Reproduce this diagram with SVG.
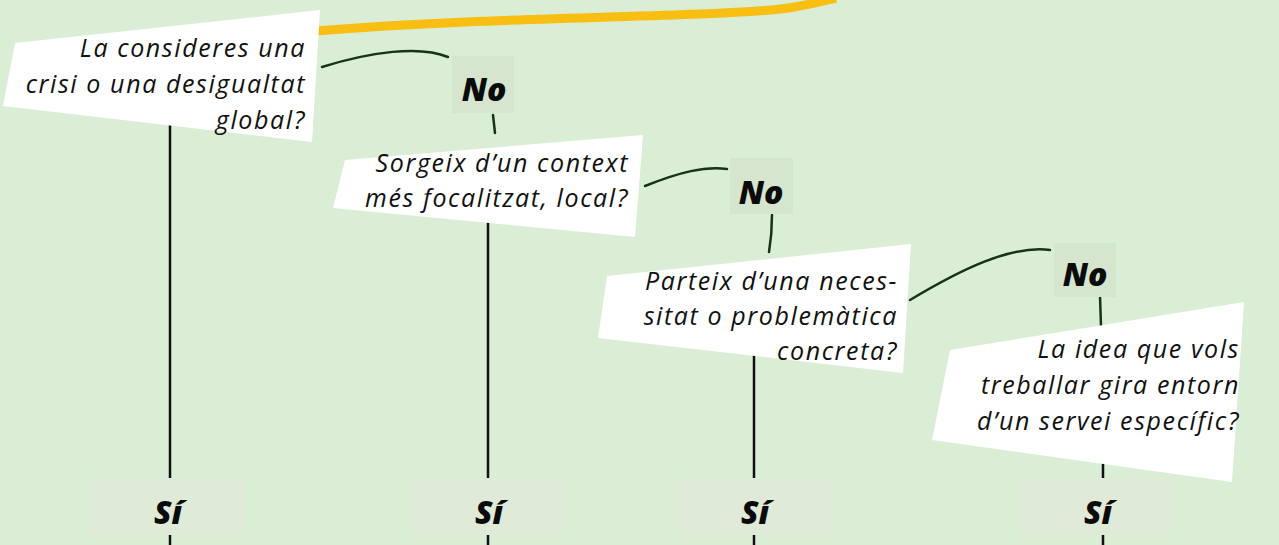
<svg xmlns="http://www.w3.org/2000/svg" width="1279" height="545" viewBox="0 0 1279 545">
<style>
.q{font-family:"Open Sans","Noto Sans",sans-serif;font-style:italic;font-size:25px;letter-spacing:1.6px;fill:#111;text-anchor:end}
.lbl{font-family:"Open Sans","Noto Sans",sans-serif;font-style:italic;font-weight:800;font-size:32px;fill:#0b0b0b;text-anchor:middle}
.box{fill:#ffffff}
.nobg{fill:#d5e5ce}
.sibg{fill:#dfebd8}
.v{stroke:#111;stroke-width:2.5;fill:none}
.c{stroke:#17321a;stroke-width:2.5;fill:none;stroke-linecap:round}
</style>
<rect width="1279" height="545" fill="#daeed5"/>
<path d="M316 31 C450 20 600 18 700 14 S800 6 836 -2" stroke="#f8be12" stroke-width="9" fill="none"/>
<g id="connectors">
<path class="v" d="M170 125 V478 M170 535 V545"/>
<path class="v" d="M488 222 V478 M488 535 V545"/>
<path class="v" d="M754 355 V478 M754 535 V545"/>
<path class="v" d="M1103 462 V478 M1103 535 V545"/>
<path class="c" d="M322 67 C370 52 420 45 448 57"/>
<path class="c" d="M493 115 L495 133"/>
<path class="c" d="M645 186 C680 172 705 166 727 169"/>
<path class="c" d="M772 215 C772 228 771 240 769 252"/>
<path class="c" d="M910 300 C960 270 1010 245 1050 250"/>
<path class="c" d="M1100 296 L1101 326"/>
</g>
<g id="q1">
<polygon class="box" points="15,43 320,10 312,142 3,106"/>
<text class="q"><tspan x="306" y="57">La consideres una</tspan><tspan x="306" y="93">crisi o una desigualtat</tspan><tspan x="306" y="129">global?</tspan></text>
</g>
<g id="q2">
<polygon class="box" points="345,160 643,135 635,237 333,208"/>
<text class="q"><tspan x="629" y="172">Sorgeix d’un context</tspan><tspan x="629" y="207">més focalitzat, local?</tspan></text>
</g>
<g id="q3">
<polygon class="box" points="607,276 911,244 903,373 598,338"/>
<text class="q"><tspan x="898" y="290">Parteix d’una neces-</tspan><tspan x="898" y="325">sitat o problemàtica</tspan><tspan x="898" y="360">concreta?</tspan></text>
</g>
<g id="q4">
<polygon class="box" points="950,350 1244,302 1232,482 932,440"/>
<text class="q"><tspan x="1240" y="358">La idea que vols</tspan><tspan x="1240" y="394">treballar gira entorn</tspan><tspan x="1240" y="430">d’un servei específic?</tspan></text>
</g>
<g id="no1"><rect class="nobg" x="452" y="56" width="62" height="57"/><text class="lbl" x="484" y="101">No</text></g>
<g id="no2"><rect class="nobg" x="730" y="158" width="63" height="56"/><text class="lbl" x="761" y="204">No</text></g>
<g id="no3"><rect class="nobg" x="1054" y="243" width="62" height="54"/><text class="lbl" x="1085" y="286">No</text></g>
<g id="si1"><rect class="sibg" x="88" y="478" width="156" height="55"/><text class="lbl" x="168" y="524">Sí</text></g>
<g id="si2"><rect class="sibg" x="410" y="478" width="156" height="55"/><text class="lbl" x="489" y="524">Sí</text></g>
<g id="si3"><rect class="sibg" x="677" y="478" width="156" height="55"/><text class="lbl" x="755" y="524">Sí</text></g>
<g id="si4"><rect class="sibg" x="1018" y="478" width="157" height="55"/><text class="lbl" x="1098" y="524">Sí</text></g>
</svg>
